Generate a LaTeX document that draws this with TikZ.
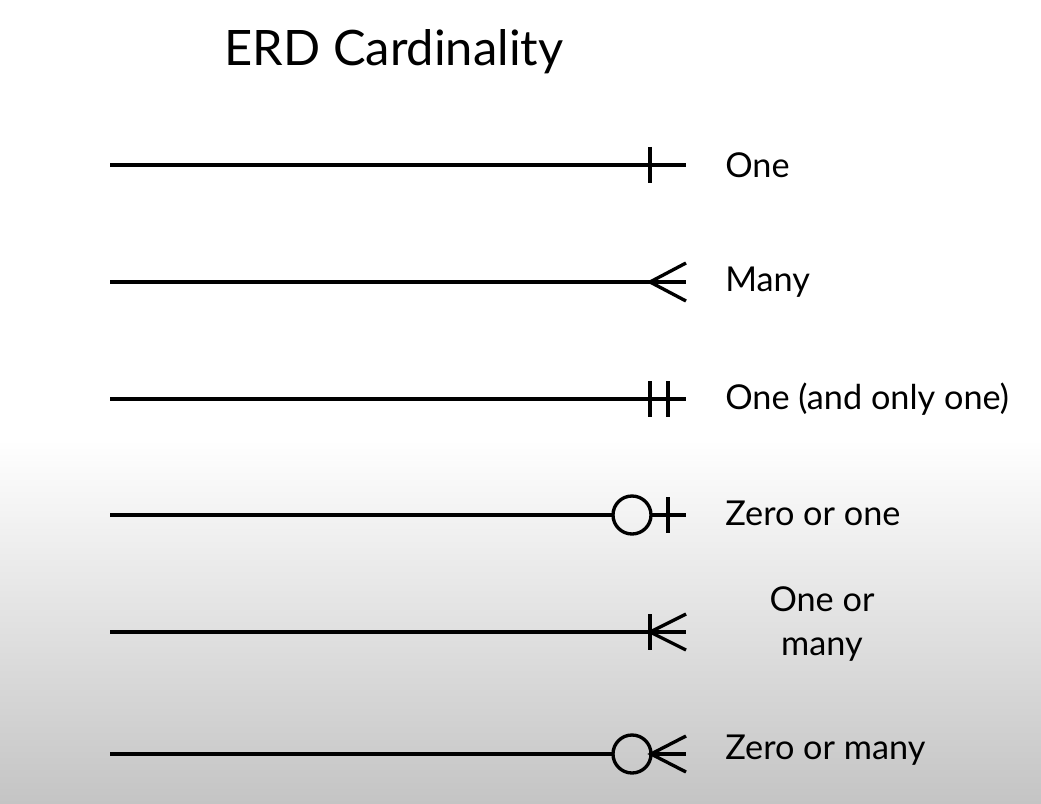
\documentclass[tikz,border=0pt]{standalone}
\usepackage{fontspec}
\setmainfont{Lato}
\usetikzlibrary{positioning, calc}
\definecolor{bgGray}{RGB}{196,196,196}

\begin{document}
\begin{tikzpicture}[x=0.02cm, y=-0.02cm,
  rel/.style={line width=1.9pt},
  lbl/.style={anchor=west, inner sep=0pt, font=\fontsize{19.5}{25}\selectfont},
]
  % background
  \fill[white] (0,0) rectangle (1041,440);
  \shade[top color=white, bottom color=bgGray] (0,439) rectangle (1041,804);
  \useasboundingbox (0,0) rectangle (1041,804);

  \node[font=\fontsize{27.8}{32}\selectfont] (title) at (394,52) {ERD Cardinality};

  % one
  \coordinate (oneA) at (110,165);
  \coordinate (oneB) at (686,165);
  \draw[rel] (oneA) -- (oneB);
  \draw[rel] (650,147) -- (650,183);
  \node[lbl] (oneLbl) at (725,165) {One};

  % many
  \coordinate (manyA) at (110,282);
  \coordinate (manyB) at (686,282);
  \draw[rel] (manyA) -- (manyB);
  \draw[rel] (686,263) -- (650,282) -- (686,301);
  \node[lbl] (manyLbl) at (725,282) {Many};

  % one and only one
  \coordinate (onlyA) at (110,399);
  \coordinate (onlyB) at (686,399);
  \draw[rel] (onlyA) -- (onlyB);
  \draw[rel] (650,381) -- (650,417);
  \draw[rel] (668,381) -- (668,417);
  \node[lbl] (onlyLbl) at (725,399) {One (and only one)};

  % zero or one
  \coordinate (zoA) at (110,515);
  \coordinate (zoB) at (686,515);
  \draw[rel] (zoA) -- (613,515);
  \draw[rel] (632,515) circle[radius=19];
  \draw[rel] (651,515) -- (zoB);
  \draw[rel] (668,497) -- (668,533);
  \node[lbl] (zoLbl) at (725,513) {Zero or one};

  % one or many
  \coordinate (omA) at (110,632);
  \coordinate (omB) at (686,632);
  \draw[rel] (omA) -- (omB);
  \draw[rel] (650,614) -- (650,650);
  \draw[rel] (686,614) -- (650,632) -- (686,650);
  \node[lbl, anchor=center, align=center] (omLbl) at (822,624) {One or\\many};

  % zero or many
  \coordinate (zmA) at (110,754);
  \coordinate (zmB) at (686,754);
  \draw[rel] (zmA) -- (613,754);
  \draw[rel] (632,754) circle[radius=19];
  \draw[rel] (651,754) -- (zmB);
  \draw[rel] (686,736) -- (651,754) -- (686,772);
  \node[lbl] (zmLbl) at (725,750) {Zero or many};
\end{tikzpicture}
\end{document}
